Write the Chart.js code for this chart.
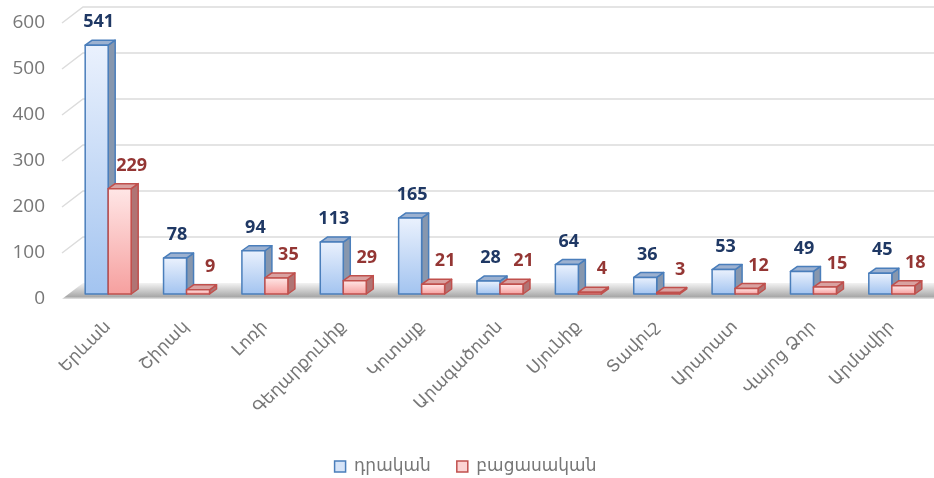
<!DOCTYPE html>
<html>
<head>
<meta charset="utf-8">
<script src="https://cdn.jsdelivr.net/npm/chart.js@4.4.0/dist/chart.umd.min.js"></script>
<style>
  html, body { margin: 0; padding: 0; background: #fff; }
</style>
</head>
<body>
<canvas id="chart" width="934" height="478"></canvas>
<script>
const regions = ['Երևան', 'Շիրակ', 'Լոռի', 'Գեղարքունիք', 'Կոտայք', 'Արագածոտն', 'Սյունիք', 'Տավուշ', 'Արարատ', 'Վայոց Ձոր', 'Արմավիր'];
const positive = [541, 78, 94, 113, 165, 28, 64, 36, 53, 49, 45];
const negative = [229, 9, 35, 29, 21, 21, 4, 3, 12, 15, 18];
const yTicks = [0, 100, 200, 300, 400, 500, 600];
const seriesNames = ['դրական', 'բացասական'];

// look of the fake 3D boxes
const faces = [
  { top: '#eaf1fd', bottom: '#a3c4f0', edge: '#4a7ebb', lid: '#9cb1d0', side: '#8797ae', text: '#1f3864', dx: 2 },
  { top: '#ffe6e6', bottom: '#f6a09f', edge: '#c0504d', lid: '#d9a2a1', side: '#b07474', text: '#943634', dx: 12 }
];
const depth = { dx: 7, dy: 5 };
const wall = { x0: 62, x1: 83, up: 11, down: 5 };
const grey = '#777777';

const backdrop = {
  id: 'backdrop',
  beforeDatasetsDraw(chart) {
    const { ctx } = chart;
    const y = chart.scales.y;
    const right = chart.width;
    ctx.save();

    // floor
    const f0 = y.getPixelForValue(0);
    const g = ctx.createLinearGradient(0, f0 - wall.up, 0, f0 + wall.down);
    g.addColorStop(0, '#f3f3f3');
    g.addColorStop(0.55, '#c4c4c4');
    g.addColorStop(0.85, '#a9a9a9');
    g.addColorStop(1, '#e6e6e6');
    ctx.fillStyle = g;
    ctx.beginPath();
    ctx.moveTo(wall.x0, f0 + wall.down);
    ctx.lineTo(wall.x1, f0 - wall.up);
    ctx.lineTo(right, f0 - wall.up);
    ctx.lineTo(right, f0 + wall.down);
    ctx.closePath();
    ctx.fill();

    // back wall grid
    ctx.strokeStyle = '#dcdcdc';
    ctx.lineWidth = 1.5;
    yTicks.forEach(v => {
      if (v === 0) return;
      const p = y.getPixelForValue(v);
      ctx.beginPath();
      ctx.moveTo(wall.x0, p + wall.down);
      ctx.lineTo(wall.x1, p - wall.up);
      ctx.lineTo(right, p - wall.up);
      ctx.stroke();
    });
    ctx.restore();
  },
  afterDatasetsDraw(chart) {
    const { ctx } = chart;
    const metas = [0, 1].map(i => chart.getDatasetMeta(i));
    ctx.save();
    ctx.lineWidth = 1.5;
    ctx.lineJoin = 'round';
    regions.forEach((_, i) => {
      metas.forEach((meta, d) => {
        const bar = meta.data[i];
        const s = faces[d];
        const l = bar.x - bar.width / 2, r = bar.x + bar.width / 2;
        const t = bar.y, b = bar.base;
        ctx.strokeStyle = s.edge;

        // side
        ctx.fillStyle = s.side;
        ctx.beginPath();
        ctx.moveTo(r, t);
        ctx.lineTo(r + depth.dx, t - depth.dy);
        ctx.lineTo(r + depth.dx, b - depth.dy);
        ctx.lineTo(r, b);
        ctx.closePath();
        ctx.fill();
        ctx.stroke();

        // lid
        ctx.fillStyle = s.lid;
        ctx.beginPath();
        ctx.moveTo(l, t);
        ctx.lineTo(l + depth.dx, t - depth.dy);
        ctx.lineTo(r + depth.dx, t - depth.dy);
        ctx.lineTo(r, t);
        ctx.closePath();
        ctx.fill();
        ctx.stroke();

        // front
        const g = ctx.createLinearGradient(0, t, 0, b);
        g.addColorStop(0, s.top);
        g.addColorStop(1, s.bottom);
        ctx.fillStyle = g;
        ctx.fillRect(l, t, r - l, b - t);
        ctx.strokeRect(l, t, r - l, b - t);
      });
    });

    // value labels
    ctx.font = 'bold 18px "Open Sans", sans-serif';
    ctx.textAlign = 'center';
    ctx.textBaseline = 'middle';
    metas.forEach((meta, d) => {
      const vals = d === 0 ? positive : negative;
      ctx.fillStyle = faces[d].text;
      meta.data.forEach((bar, i) => {
        ctx.fillText(String(vals[i]), bar.x + faces[d].dx, bar.y - 23);
      });
    });
    ctx.restore();
  }
};

new Chart(document.getElementById('chart'), {
  type: 'bar',
  data: {
    labels: regions,
    datasets: [
      { label: seriesNames[0], data: positive, backgroundColor: '#d6e4f8', borderColor: '#4a7ebb', borderWidth: 1.5 },
      { label: seriesNames[1], data: negative, backgroundColor: '#fcd3d3', borderColor: '#c0504d', borderWidth: 1.5 }
    ]
  },
  options: {
    responsive: false,
    devicePixelRatio: 1,
    animation: false,
    barPercentage: 1,
    categoryPercentage: 0.587,
    layout: { padding: { top: 18, right: 3, left: 0, bottom: -7 } },
    scales: {
      x: {
        grid: { display: false, drawTicks: false },
        border: { display: false },
        ticks: {
          minRotation: 45, maxRotation: 45, padding: 23,
          color: grey, font: { family: '"DejaVu Sans", sans-serif', size: 17 }
        },
        afterFit(scale) { scale.height = 138; }
      },
      y: {
        min: 0, max: 600,
        grid: { display: false, drawTicks: false },
        border: { display: false },
        ticks: {
          stepSize: 100, padding: 24, labelOffset: 5,
          color: grey, font: { family: '"Open Sans", sans-serif', size: 19 }
        },
        afterFit(scale) {
          scale.width = 69;
          scale.paddingTop = 0;
          scale.paddingBottom = 0;
        }
      }
    },
    plugins: {
      legend: {
        position: 'bottom',
        labels: {
          boxWidth: 11, boxHeight: 11, padding: 26, color: grey,
          font: { family: '"DejaVu Sans", sans-serif', size: 17 }
        }
      },
      tooltip: { enabled: false }
    }
  },
  plugins: [backdrop]
});
</script>
</body>
</html>
